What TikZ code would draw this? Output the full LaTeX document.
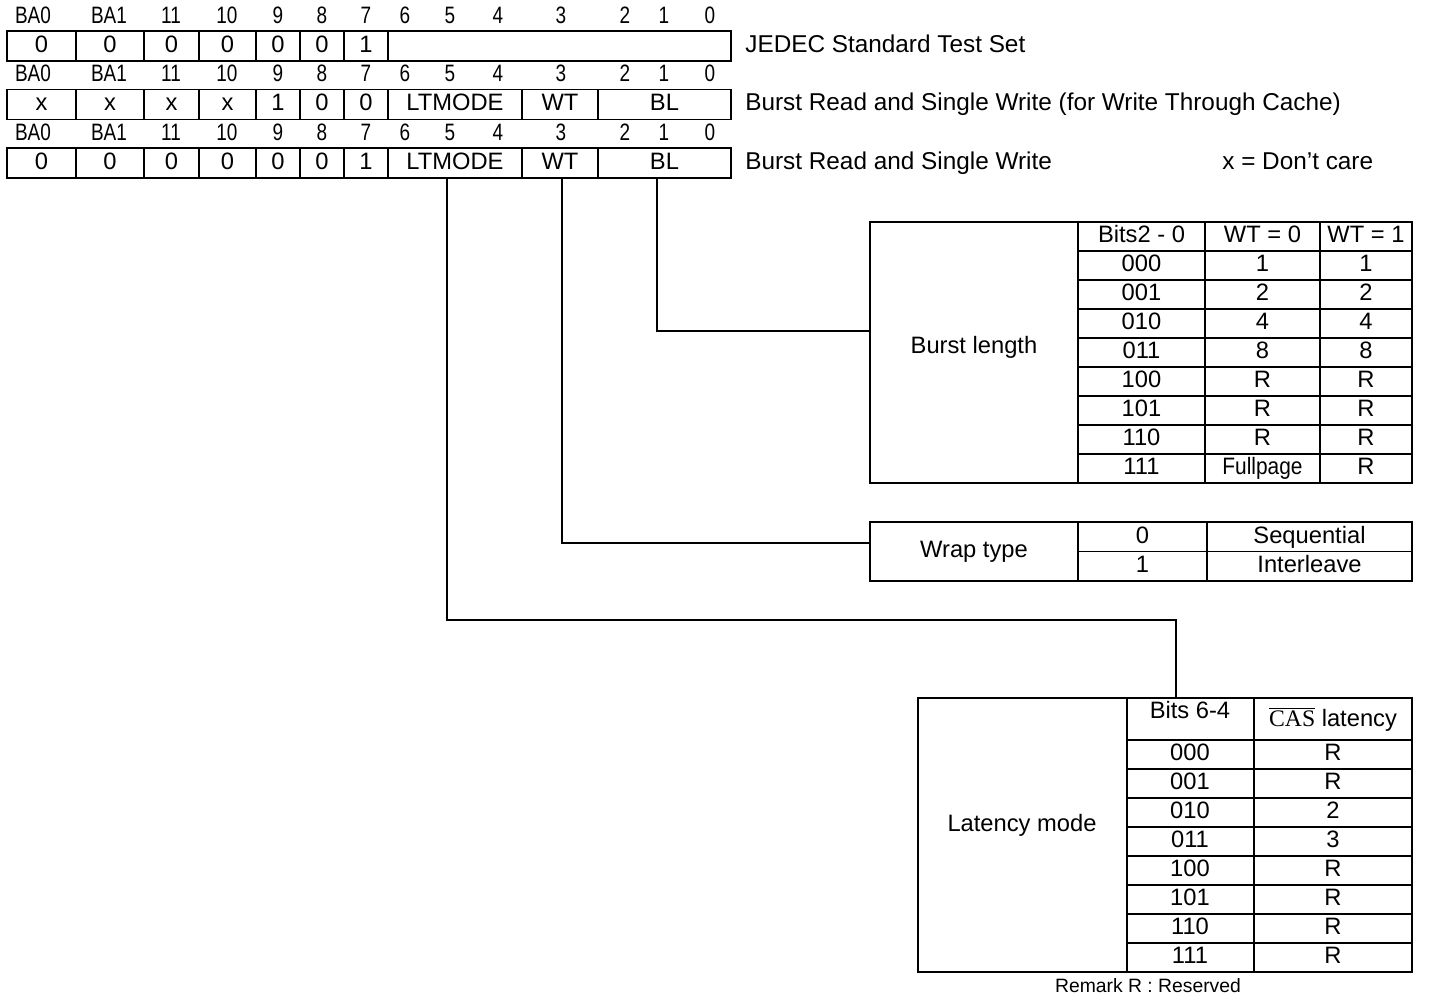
\documentclass[tikz,border=0pt]{standalone}
\usepackage{fontspec}
\setmainfont{Liberation Sans}
\newfontfamily\narrowsans[FakeStretch=0.8]{Liberation Sans}
\newfontfamily\condsans[FakeStretch=0.88]{Liberation Sans}
\newfontfamily\casserif{Liberation Serif}
\usepackage{tikz}
\tikzset{
  regline/.style={line width=1.1pt, draw=black},
  tabline/.style={line width=1.1pt, draw=black},
  wire/.style={line width=0.9pt, draw=black, line cap=butt},
  bitno/.style={font=\narrowsans\fontsize{13.5}{15}\selectfont, inner sep=0pt, text height=0.72em, text depth=0pt},
  regtext/.style={font=\fontsize{13.5}{15}\selectfont, inner sep=0pt, text height=0.72em, text depth=0pt},
  sidetext/.style={font=\fontsize{13.85}{16}\selectfont, anchor=west, inner sep=0pt, text height=0.72em, text depth=0pt},
  tabtext/.style={font=\fontsize{13.5}{16}\selectfont, inner sep=0pt, text height=0.72em, text depth=0pt},
  remark/.style={font=\fontsize{11}{13}\selectfont, inner sep=0pt},
}

\begin{document}
\begin{tikzpicture}[x=0.02cm, y=-0.02cm]
\useasboundingbox (0,0) rectangle (1445,998);
% bit numbers
\path (33,17) node[bitno] (a-ba0) {BA0} (109,17) node[bitno] (a-ba1) {BA1} (171,17) node[bitno] (a-11) {11} (227,17) node[bitno] (a-10) {10} (278,17) node[bitno] (a-9) {9} (322,17) node[bitno] (a-8) {8} (366,17) node[bitno] (a-7) {7} (405,17) node[bitno] (a-6) {6} (450,17) node[bitno] (a-5) {5} (498,17) node[bitno] (a-4) {4} (561,17) node[bitno] (a-3) {3} (625,17) node[bitno] (a-2) {2} (664,17) node[bitno] (a-1) {1} (710,17) node[bitno] (a-0) {0};
\path (33,75.5) node[bitno] (b-ba0) {BA0} (109,75.5) node[bitno] (b-ba1) {BA1} (171,75.5) node[bitno] (b-11) {11} (227,75.5) node[bitno] (b-10) {10} (278,75.5) node[bitno] (b-9) {9} (322,75.5) node[bitno] (b-8) {8} (366,75.5) node[bitno] (b-7) {7} (405,75.5) node[bitno] (b-6) {6} (450,75.5) node[bitno] (b-5) {5} (498,75.5) node[bitno] (b-4) {4} (561,75.5) node[bitno] (b-3) {3} (625,75.5) node[bitno] (b-2) {2} (664,75.5) node[bitno] (b-1) {1} (710,75.5) node[bitno] (b-0) {0};
\path (33,134) node[bitno] (c-ba0) {BA0} (109,134) node[bitno] (c-ba1) {BA1} (171,134) node[bitno] (c-11) {11} (227,134) node[bitno] (c-10) {10} (278,134) node[bitno] (c-9) {9} (322,134) node[bitno] (c-8) {8} (366,134) node[bitno] (c-7) {7} (405,134) node[bitno] (c-6) {6} (450,134) node[bitno] (c-5) {5} (498,134) node[bitno] (c-4) {4} (561,134) node[bitno] (c-3) {3} (625,134) node[bitno] (c-2) {2} (664,134) node[bitno] (c-1) {1} (710,134) node[bitno] (c-0) {0};
% register 1 : JEDEC test set
\draw[regline] (7,31) rectangle (731,61);
\draw[regline] (76,31) -- (76,61) (144,31) -- (144,61) (199,31) -- (199,61) (256,31) -- (256,61) (300,31) -- (300,61) (344,31) -- (344,61) (388,31) -- (388,61);
\path (41.5,46) node[regtext] (r1-ba0) {0} (110,46) node[regtext] (r1-ba1) {0} (171.5,46) node[regtext] (r1-11) {0} (227.5,46) node[regtext] (r1-10) {0} (278,46) node[regtext] (r1-9) {0} (322,46) node[regtext] (r1-8) {0} (366,46) node[regtext] (r1-7) {1};
\node[sidetext] (jedec) at (745,46) {JEDEC Standard Test Set};
% register 2 : write through
\draw[regline] (7,89.5) rectangle (731,119.5);
\draw[regline] (76,89.5) -- (76,119.5) (144,89.5) -- (144,119.5) (199,89.5) -- (199,119.5) (256,89.5) -- (256,119.5) (300,89.5) -- (300,119.5) (344,89.5) -- (344,119.5) (388,89.5) -- (388,119.5) (522,89.5) -- (522,119.5) (598,89.5) -- (598,119.5);
\path (41.5,104.5) node[regtext] (r2-ba0) {x} (110,104.5) node[regtext] (r2-ba1) {x} (171.5,104.5) node[regtext] (r2-11) {x} (227.5,104.5) node[regtext] (r2-10) {x} (278,104.5) node[regtext] (r2-9) {1} (322,104.5) node[regtext] (r2-8) {0} (366,104.5) node[regtext] (r2-7) {0} (455,104.5) node[regtext] (r2-lt) {LTMODE} (560,104.5) node[regtext] (r2-wt) {WT} (664.5,104.5) node[regtext] (r2-bl) {BL};
\node[sidetext] (wthru) at (745,104.5) {Burst Read and Single Write (for Write Through Cache)};
% register 3 : burst read single write
\draw[regline] (7,148) rectangle (731,178);
\draw[regline] (76,148) -- (76,178) (144,148) -- (144,178) (199,148) -- (199,178) (256,148) -- (256,178) (300,148) -- (300,178) (344,148) -- (344,178) (388,148) -- (388,178) (522,148) -- (522,178) (598,148) -- (598,178);
\path (41.5,163) node[regtext] (r3-ba0) {0} (110,163) node[regtext] (r3-ba1) {0} (171.5,163) node[regtext] (r3-11) {0} (227.5,163) node[regtext] (r3-10) {0} (278,163) node[regtext] (r3-9) {0} (322,163) node[regtext] (r3-8) {0} (366,163) node[regtext] (r3-7) {1} (455,163) node[regtext] (r3-lt) {LTMODE} (560,163) node[regtext] (r3-wt) {WT} (664.5,163) node[regtext] (r3-bl) {BL};
\node[sidetext] (brsw) at (745,163) {Burst Read and Single Write};
\node[sidetext] (dontcare) at (1222,163) {x = Don’t care};
% burst length table
\draw[tabline] (870,222) rectangle (1412,483);
\draw[tabline] (1078,222) -- (1078,483) (1205,222) -- (1205,483) (1320,222) -- (1320,483);
\draw[tabline] (1078,251) -- (1412,251) (1078,280) -- (1412,280) (1078,309) -- (1412,309) (1078,338) -- (1412,338) (1078,367) -- (1412,367) (1078,396) -- (1412,396) (1078,425) -- (1412,425) (1078,454) -- (1412,454);
\node[tabtext] (burst) at (974,347) {Burst length};
\path (1141.5,236.5) node[tabtext] (bl-h1) {Bits2 - 0} (1262.5,236.5) node[tabtext] (bl-h2) {WT = 0} (1366,236.5) node[tabtext] (bl-h3) {WT = 1};
\path (1141.5,265.5) node[tabtext] (bl-a0) {000} (1262.5,265.5) node[tabtext] (bl-b0) {1} (1366,265.5) node[tabtext] (bl-c0) {1};
\path (1141.5,294.5) node[tabtext] (bl-a1) {001} (1262.5,294.5) node[tabtext] (bl-b1) {2} (1366,294.5) node[tabtext] (bl-c1) {2};
\path (1141.5,323.5) node[tabtext] (bl-a2) {010} (1262.5,323.5) node[tabtext] (bl-b2) {4} (1366,323.5) node[tabtext] (bl-c2) {4};
\path (1141.5,352.5) node[tabtext] (bl-a3) {011} (1262.5,352.5) node[tabtext] (bl-b3) {8} (1366,352.5) node[tabtext] (bl-c3) {8};
\path (1141.5,381.5) node[tabtext] (bl-a4) {100} (1262.5,381.5) node[tabtext] (bl-b4) {R} (1366,381.5) node[tabtext] (bl-c4) {R};
\path (1141.5,410.5) node[tabtext] (bl-a5) {101} (1262.5,410.5) node[tabtext] (bl-b5) {R} (1366,410.5) node[tabtext] (bl-c5) {R};
\path (1141.5,439.5) node[tabtext] (bl-a6) {110} (1262.5,439.5) node[tabtext] (bl-b6) {R} (1366,439.5) node[tabtext] (bl-c6) {R};
\path (1141.5,468.5) node[tabtext] (bl-a7) {111} (1262.5,468.5) node[tabtext, font=\condsans\fontsize{13.5}{16}\selectfont] (bl-b7) {Fullpage} (1366,468.5) node[tabtext] (bl-c7) {R};
% wrap type table
\draw[tabline] (870,522) rectangle (1412,581);
\draw[tabline] (1078,522) -- (1078,581) (1207,522) -- (1207,581) (1078,551.5) -- (1412,551.5);
\node[tabtext] (wrap) at (974,551.5) {Wrap type};
\path (1142.5,537) node[tabtext] (wr-a0) {0} (1309.5,537) node[tabtext] (wr-b0) {Sequential};
\path (1142.5,566) node[tabtext] (wr-a1) {1} (1309.5,566) node[tabtext] (wr-b1) {Interleave};
% latency mode table
\draw[tabline] (918,698) rectangle (1412,972);
\draw[tabline] (1127,698) -- (1127,972) (1254,698) -- (1254,972);
\draw[tabline] (1127,740) -- (1412,740) (1127,769) -- (1412,769) (1127,798) -- (1412,798) (1127,827) -- (1412,827) (1127,856) -- (1412,856) (1127,885) -- (1412,885) (1127,914) -- (1412,914) (1127,943) -- (1412,943);
\node[tabtext] (latency) at (1022,825) {Latency mode};
\path (1190,712) node[tabtext] (lm-h1) {Bits 6-4} (1333,720) node[tabtext] (lm-h2) {{\casserif$\overline{\mbox{CAS}}$} latency};
\path (1190,754.5) node[tabtext] (lm-a0) {000} (1333,754.5) node[tabtext] (lm-b0) {R};
\path (1190,783.5) node[tabtext] (lm-a1) {001} (1333,783.5) node[tabtext] (lm-b1) {R};
\path (1190,812.5) node[tabtext] (lm-a2) {010} (1333,812.5) node[tabtext] (lm-b2) {2};
\path (1190,841.5) node[tabtext] (lm-a3) {011} (1333,841.5) node[tabtext] (lm-b3) {3};
\path (1190,870.5) node[tabtext] (lm-a4) {100} (1333,870.5) node[tabtext] (lm-b4) {R};
\path (1190,899.5) node[tabtext] (lm-a5) {101} (1333,899.5) node[tabtext] (lm-b5) {R};
\path (1190,928.5) node[tabtext] (lm-a6) {110} (1333,928.5) node[tabtext] (lm-b6) {R};
\path (1190,957.5) node[tabtext] (lm-a7) {111} (1333,957.5) node[tabtext] (lm-b7) {R};
\node[remark] (note) at (1148,986) {Remark R : Reserved};
% field connectors
\coordinate (lt-out) at (447,178);
\coordinate (wt-out) at (562,178);
\coordinate (bl-out) at (657,178);
\coordinate (bl-in) at (870,331);
\coordinate (wt-in) at (870,543);
\coordinate (lt-in) at (1176,698);
\draw[wire] (bl-out) |- (bl-in);
\draw[wire] (wt-out) |- (wt-in);
\draw[wire] (lt-out) -- (447,620) -| (lt-in);
\end{tikzpicture}
\end{document}
